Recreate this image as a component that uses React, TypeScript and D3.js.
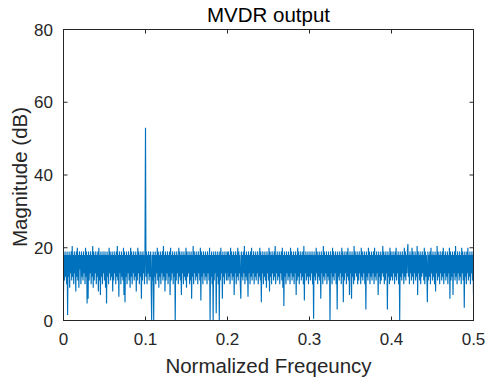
import React from "react";
import * as d3 from "d3";

// Magnitude (dB) samples, one array per 0.1 band of normalized frequency
const band1 = [
  8, 18, 11, 19, 12, 18, 10, 19, 1.5, 18, 12, 19, 9, 18, 13, 19, 11, 20.5, 12, 18,
  10, 19, 13, 18, 8, 19, 12, 20, 11, 18, 9, 19, 14, 18, 10, 19, 12, 18, 11, 19,
  13, 18, 10, 20, 12, 19, 4.7, 18, 6, 19, 11, 18, 13, 19, 10, 18, 12, 20.5, 9, 19,
  11, 18, 13, 19, 10, 18, 12, 19, 8, 20, 11, 18, 7, 19, 12, 18, 10, 19, 13, 18,
  11, 19, 9, 18, 4.7, 19, 12, 18, 10, 20, 13, 19, 11, 18, 12, 19, 8, 18, 11, 19,
  13, 18, 10, 19, 12, 20.5, 11, 18, 6.5, 19, 13, 18, 10, 19, 12, 18, 11, 20, 7, 19,
  5, 18, 12, 19, 10, 18, 13, 19, 11, 18, 9, 20, 12, 19, 10, 18, 13, 19, 11, 18,
  12, 19, 8, 18, 11, 20, 13, 19, 10, 18, 12, 19, 6, 18, 11, 19, 13, 18, 10, 19,
];
const band2 = [
  53, 12, 19, 10, 18, 13, 19, 11, 18, 12, 19, 10, 0, 18, 11, 19, 0, 18, 12, 19,
  10, 18, 13, 20, 11, 19, 9, 18, 12, 19, 10, 18, 13, 19, 11, 20.5, 12, 18, 8, 19,
  11, 18, 13, 19, 10, 18, 12, 19, 7, 20, 11, 18, 13, 19, 10, 18, 12, 19, 0, 18,
  11, 19, 13, 18, 10, 20, 12, 19, 11, 18, 7, 19, 13, 18, 10, 19, 12, 18, 11, 20,
  9, 19, 12, 18, 13, 19, 10, 18, 11, 19, 6, 18, 12, 20.5, 10, 19, 13, 18, 11, 19,
  12, 18, 10, 19, 13, 18, 11, 20, 5.5, 19, 12, 18, 10, 19, 13, 18, 11, 19, 12, 18,
  10, 19, 13, 18, 11, 20, 0, 18, 12, 19, 10, 18, 0, 19, 11, 18, 13, 19, 2, 18,
  12, 19, 10, 18, 0, 19, 11, 20, 13, 18, 6, 19, 12, 18, 10, 19, 13, 18, 11, 19,
];
const band3 = [
  18, 11, 19, 12, 18, 10, 20, 13, 19, 11, 18, 12, 19, 7, 18, 13, 19, 10, 18, 12,
  20, 11, 19, 13, 18, 10, 6, 19, 12, 18, 11, 19, 13, 20.5, 10, 18, 12, 19, 11, 18,
  6.5, 19, 13, 18, 10, 19, 12, 20, 11, 18, 13, 19, 10, 18, 12, 19, 11, 18, 13, 19,
  10, 18, 12, 20, 11, 19, 5, 18, 13, 19, 10, 18, 12, 19, 11, 18, 9, 19, 13, 18,
  11, 20, 8, 19, 12, 18, 10, 19, 13, 18, 11, 19, 12, 20.5, 10, 18, 13, 19, 11, 18,
  12, 19, 10, 18, 13, 19, 11, 20, 9, 18, 4, 19, 12, 18, 10, 19, 13, 18, 11, 19,
  12, 18, 10, 20, 13, 19, 11, 18, 12, 19, 10, 18, 13, 19, 7, 18, 11, 20, 12, 19,
  10, 18, 13, 19, 11, 18, 12, 19, 10, 20.5, 5.5, 18, 13, 19, 11, 18, 12, 19, 10, 18,
];
const band4 = [
  12, 19, 11, 18, 13, 19, 10, 18, 0.5, 19, 12, 18, 11, 20, 13, 19, 10, 18, 12, 19,
  11, 18, 6, 19, 13, 18, 10, 20.5, 12, 19, 11, 18, 13, 19, 10, 18, 12, 19, 11, 18,
  0, 19, 13, 18, 10, 20, 12, 19, 11, 18, 13, 19, 10, 18, 3, 19, 12, 18, 11, 19,
  13, 18, 10, 20, 12, 19, 5, 18, 11, 19, 13, 18, 10, 19, 12, 20, 11, 18, 7, 19,
  13, 18, 6, 19, 12, 18, 10, 20.5, 11, 19, 13, 18, 12, 19, 10, 18, 11, 19, 13, 18,
  10, 20, 12, 19, 11, 18, 13, 19, 10, 18, 3, 19, 12, 18, 11, 20, 13, 19, 10, 18,
  12, 19, 11, 18, 13, 19, 10, 20, 12, 18, 11, 19, 13, 18, 7, 19, 12, 18, 10, 19,
  11, 18, 13, 20.5, 12, 19, 10, 18, 11, 19, 13, 18, 3, 19, 12, 18, 10, 20, 11, 19,
];
const band5 = [
  12, 18, 11, 19, 13, 18, 10, 19, 12, 20, 11, 18, 13, 19, 10, 18, 0, 19, 12, 18,
  11, 19, 13, 18, 10, 20, 12, 19, 11, 18, 13, 19, 21, 12, 18, 10, 19, 13, 18, 11,
  20, 12, 19, 10, 18, 13, 19, 11, 18, 12, 20.5, 7, 19, 13, 18, 11, 19, 10, 18, 12,
  19, 13, 18, 11, 20, 10, 19, 12, 18, 13, 5, 19, 11, 18, 12, 19, 10, 20, 13, 18,
  11, 19, 12, 18, 10, 19, 8, 18, 13, 20.5, 11, 19, 12, 18, 10, 19, 13, 18, 11, 19,
  12, 20, 10, 18, 13, 19, 11, 18, 12, 19, 10, 18, 13, 20, 6, 19, 11, 18, 12, 19,
  7, 18, 13, 19, 11, 20.5, 12, 18, 10, 19, 13, 18, 11, 19, 12, 18, 10, 20, 13, 19,
  11, 18, 3.5, 19, 12, 18, 10, 19, 13, 20, 11, 18, 12, 19, 10, 18, 13, 19, 11, 18, 7,
];
const bandStarts = [0, 0.1, 0.2, 0.3, 0.4];

const xTicks = [0, 0.1, 0.2, 0.3, 0.4, 0.5];
const xTickLabels = ["0", "0.1", "0.2", "0.3", "0.4", "0.5"];
const yTicks = [0, 20, 40, 60, 80];
const yTickLabels = ["0", "20", "40", "60", "80"];
const title = "MVDR output";
const xLabel = "Normalized Freqeuncy";
const yLabel = "Magnitude (dB)";

const W = 495;
const H = 379;
const L = 63.5, R = 473.5, T = 29.5, B = 320.5;
const FONT = "'Liberation Sans', Arial, Helvetica, sans-serif";
const AX = "#262626";

export default function App() {
  const x = d3.scaleLinear().domain([0, 0.5]).range([L, R]);
  const y = d3.scaleLinear().domain([0, 80]).range([B, T]);

  const bands = [band1, band2, band3, band4, band5];
  const pts: [number, number][] = [];
  bands.forEach((vals, k) => {
    const last = k === bands.length - 1;
    const step = 0.1 / (last ? vals.length - 1 : vals.length);
    vals.forEach((v, j) => pts.push([bandStarts[k] + j * step, v]));
  });

  const line = d3
    .line<[number, number]>()
    .x((d) => x(d[0]))
    .y((d) => y(d[1]));

  const tl = 4;
  return (
    <svg
      width={W}
      height={H}
      style={{ position: "absolute", left: 0, top: 0, background: "#fff" }}
      fontFamily={FONT}
    >
      <defs>
        <clipPath id="plotclip">
          <rect x={L} y={T} width={R - L} height={B - T} />
        </clipPath>
      </defs>
      <rect x={0} y={0} width={W} height={H} fill="#fff" />
      <path
        d={line(pts) || ""}
        fill="none"
        stroke="#0072BD"
        strokeWidth={1.15}
        strokeLinejoin="bevel"
        clipPath="url(#plotclip)"
      />
      <rect x={L} y={T} width={R - L} height={B - T} fill="none" stroke={AX} strokeWidth={1} />
      {xTicks.map((t, i) => (
        <g key={"xt" + i}>
          <line x1={x(t)} x2={x(t)} y1={B} y2={B - tl} stroke={AX} strokeWidth={1} />
          <line x1={x(t)} x2={x(t)} y1={T} y2={T + tl} stroke={AX} strokeWidth={1} />
          <text x={x(t)} y={345} textAnchor="middle" fontSize={17} fill={AX}>
            {xTickLabels[i]}
          </text>
        </g>
      ))}
      {yTicks.map((t, i) => (
        <g key={"yt" + i}>
          <line x1={L} x2={L + tl} y1={y(t)} y2={y(t)} stroke={AX} strokeWidth={1} />
          <line x1={R} x2={R - tl} y1={y(t)} y2={y(t)} stroke={AX} strokeWidth={1} />
          <text x={53} y={y(t)} dy="0.36em" textAnchor="end" fontSize={17} fill={AX}>
            {yTickLabels[i]}
          </text>
        </g>
      ))}
      <text x={(L + R) / 2} y={22} textAnchor="middle" fontSize={20.5} fill="#000">
        {title}
      </text>
      <text x={(L + R) / 2} y={373} textAnchor="middle" fontSize={20.5} fill={AX}>
        {xLabel}
      </text>
      <text
        transform={`translate(27,177) rotate(-90)`}
        textAnchor="middle"
        fontSize={20.5}
        fill={AX}
      >
        {yLabel}
      </text>
    </svg>
  );
}
